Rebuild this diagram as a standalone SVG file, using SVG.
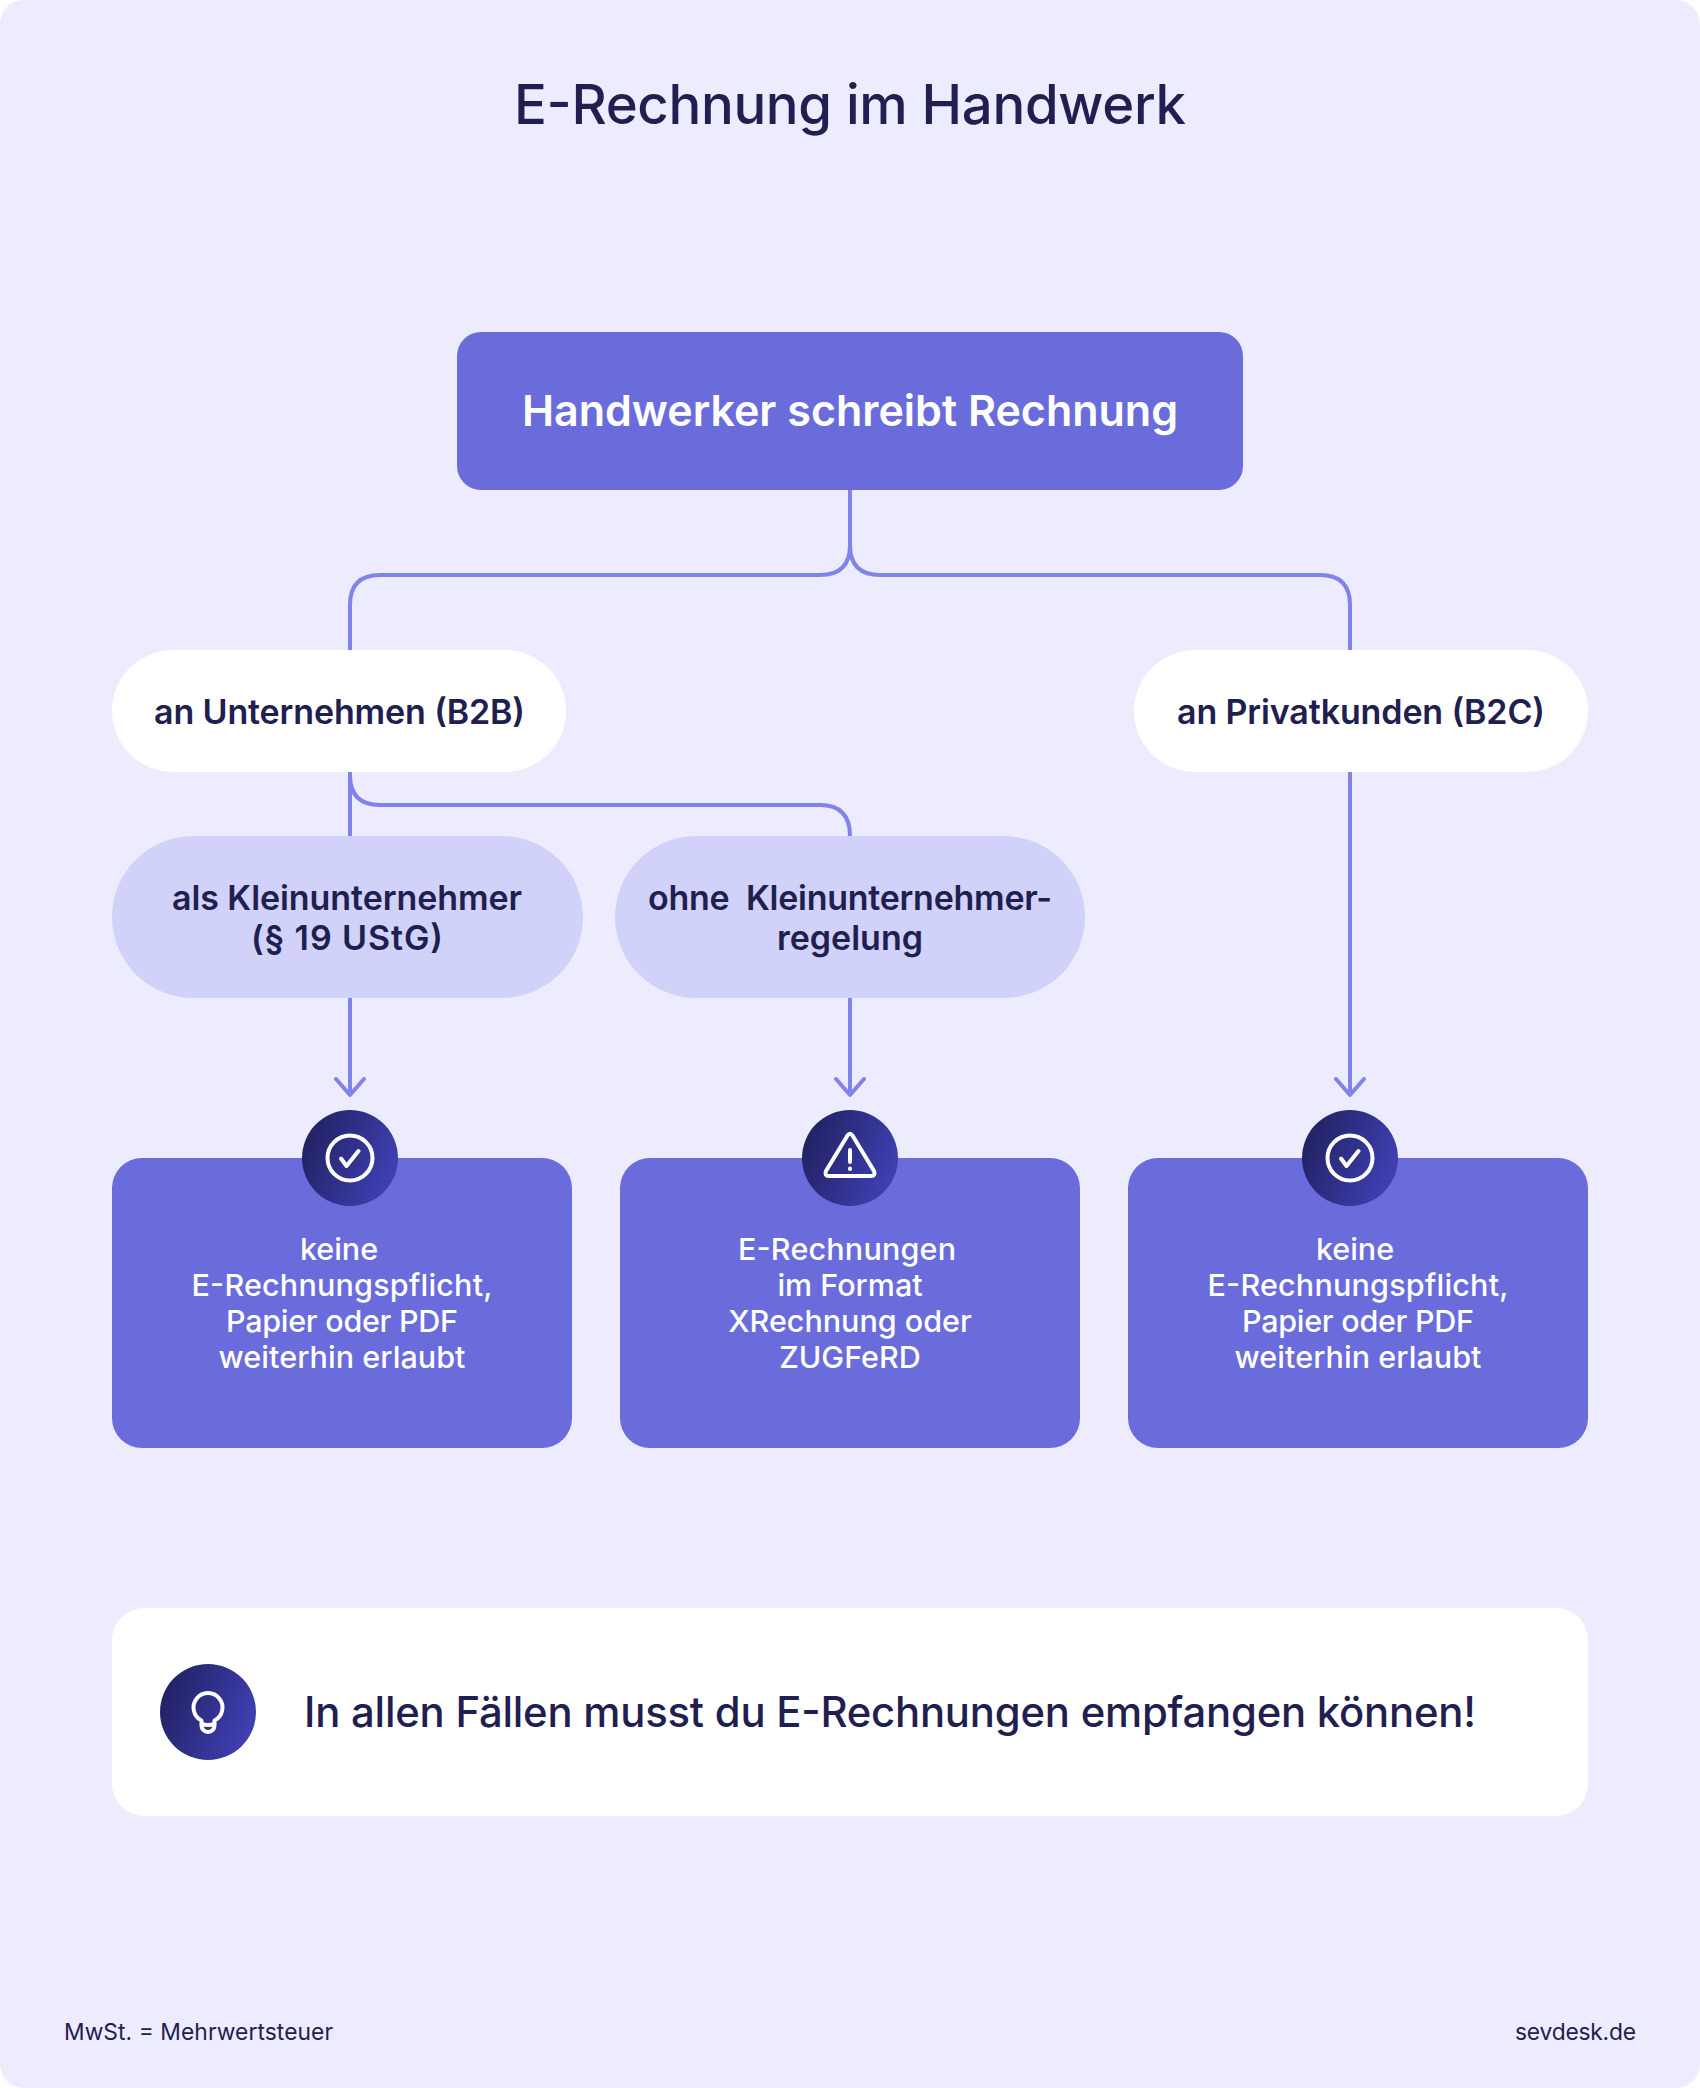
<svg xmlns="http://www.w3.org/2000/svg" width="1700" height="2088" viewBox="0 0 1700 2088">
<style>
text{font-family:"Inter","Liberation Sans",sans-serif;text-anchor:middle}
.t{fill:#1f2050}.w{fill:#fff}
.lbl{font-size:34px;font-weight:600;fill:#1f2050}
.box{font-size:30.5px;font-weight:540;fill:#fff}
.c{fill:none;stroke:#8083e8;stroke-width:4;stroke-linecap:round;stroke-linejoin:round}
.i{fill:none;stroke:#fff;stroke-width:4;stroke-linecap:round;stroke-linejoin:round}
.f{font-size:22.800px;fill:#1f2050}
</style>
<defs>
<linearGradient id="g" x1="0" y1="0.3" x2="1" y2="0.7"><stop offset="0" stop-color="#212161"/><stop offset="1" stop-color="#4141b8"/></linearGradient>
</defs>
<rect width="1700" height="2088" fill="#fff"/>
<rect id="bg" width="1700" height="2088" rx="24" fill="#ececfe"/>
<text id="title" x="850" y="124" font-size="54.500" font-weight="500" class="t" textLength="672" lengthAdjust="spacing">E-Rechnung im Handwerk</text>
<g id="connectors" class="c">
<path d="M850 490V545Q850 575 820 575H380Q350 575 350 605V650"/>
<path d="M850 545Q850 575 880 575H1320Q1350 575 1350 605V650"/>
<path d="M350 772V836"/>
<path d="M350 775Q350 805 380 805H820Q850 805 850 836"/>
<path d="M350 998V1094M336 1079L350 1095L364 1079"/>
<path d="M850 998V1094M836 1079L850 1095L864 1079"/>
<path d="M1350 772V1094M1336 1079L1350 1095L1364 1079"/>
</g>
<g id="n-root"><rect x="457" y="332" width="786" height="158" rx="24" fill="#6a6cdc"/><text x="850" y="426" font-size="43" font-weight="600" class="w">Handwerker schreibt Rechnung</text></g>
<g id="n-b2b"><rect x="112" y="650" width="454" height="122" rx="61" fill="#fff"/><text x="339.500" y="724" class="lbl" textLength="371" lengthAdjust="spacing">an Unternehmen (B2B)</text></g>
<g id="n-b2c"><rect x="1134" y="650" width="454" height="122" rx="61" fill="#fff"/><text x="1361" y="724" class="lbl" textLength="368" lengthAdjust="spacing">an Privatkunden (B2C)</text></g>
<g id="n-klein"><rect x="112" y="836" width="471" height="162" rx="81" fill="#d1d2f9"/><text x="347" y="910" class="lbl" textLength="350" lengthAdjust="spacing">als Kleinunternehmer</text><text x="347" y="950" class="lbl" textLength="192" lengthAdjust="spacing">(§ 19 UStG)</text></g>
<g id="n-ohne"><rect x="615" y="836" width="470" height="162" rx="81" fill="#d1d2f9"/><text x="850" y="910" class="lbl" xml:space="preserve" textLength="404" lengthAdjust="spacing">ohne  Kleinunternehmer-</text><text x="850" y="950" class="lbl">regelung</text></g>
<g id="n-r1"><rect x="112" y="1158" width="460" height="290" rx="30" fill="#6a6cdc"/>
<text x="339" y="1260" class="box">keine</text><text x="342" y="1296" class="box" textLength="301" lengthAdjust="spacing">E-Rechnungspflicht,</text><text x="342" y="1332" class="box" textLength="232" lengthAdjust="spacing">Papier oder PDF</text><text x="342" y="1368" class="box" textLength="247" lengthAdjust="spacing">weiterhin erlaubt</text>
<circle cx="350" cy="1158" r="48" fill="url(#g)"/><circle cx="350" cy="1158" r="22.500" class="i"/><path d="M341 1158.500L346.500 1166L358.500 1151" class="i"/></g>
<g id="n-r2"><rect x="620" y="1158" width="460" height="290" rx="30" fill="#6a6cdc"/>
<text x="847" y="1260" class="box" textLength="218" lengthAdjust="spacing">E-Rechnungen</text><text x="850" y="1296" class="box">im Format</text><text x="850" y="1332" class="box">XRechnung oder</text><text x="850" y="1368" class="box">ZUGFeRD</text>
<circle cx="850" cy="1158" r="48" fill="url(#g)"/><path d="M847.500 1135.500Q850 1132 852.500 1135.500L874 1171Q876 1176 871 1176H829Q824 1176 826 1171Z" class="i"/><path d="M850 1150V1162M850 1168.500V1169" class="i"/></g>
<g id="n-r3"><rect x="1128" y="1158" width="460" height="290" rx="30" fill="#6a6cdc"/>
<text x="1355" y="1260" class="box">keine</text><text x="1358" y="1296" class="box" textLength="301" lengthAdjust="spacing">E-Rechnungspflicht,</text><text x="1358" y="1332" class="box" textLength="232" lengthAdjust="spacing">Papier oder PDF</text><text x="1358" y="1368" class="box" textLength="247" lengthAdjust="spacing">weiterhin erlaubt</text>
<circle cx="1350" cy="1158" r="48" fill="url(#g)"/><circle cx="1350" cy="1158" r="22.500" class="i"/><path d="M1341 1158.500L1346.500 1166L1358.500 1151" class="i"/></g>
<g id="n-note"><rect x="112" y="1608" width="1476" height="208" rx="32" fill="#fff"/>
<circle cx="208" cy="1712" r="48" fill="url(#g)"/>
<path d="M201.500 1720.500V1725.500A6.500 6.500 0 0 0 214.500 1725.500V1720.500A14.500 14.500 0 1 0 201.500 1720.500ZM202 1724Q208 1726 214 1724" class="i"/>
<text x="304" y="1727" font-size="41.800" font-weight="450" class="t" style="text-anchor:start" textLength="1172" lengthAdjust="spacing">In allen Fällen musst du E-Rechnungen empfangen können!</text></g>
<text id="foot-l" x="64" y="2040" class="f" style="text-anchor:start" textLength="269" lengthAdjust="spacing">MwSt. = Mehrwertsteuer</text>
<text id="foot-r" x="1636" y="2040" class="f" style="text-anchor:end" textLength="121" lengthAdjust="spacing">sevdesk.de</text>
</svg>
